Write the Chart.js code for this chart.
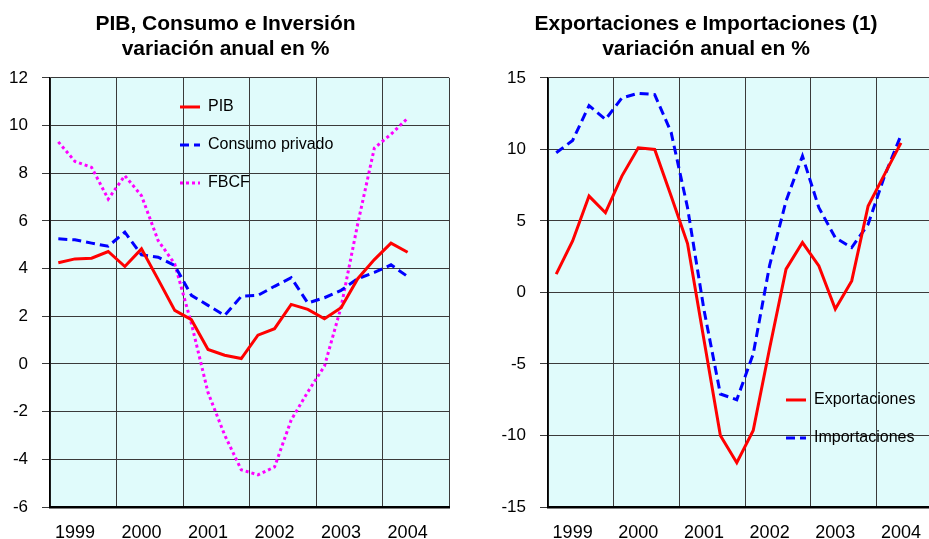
<!DOCTYPE html>
<html>
<head>
<meta charset="utf-8">
<script src="https://cdn.jsdelivr.net/npm/chart.js@4/dist/chart.umd.min.js"></script>
<style>
  body { margin: 0; background: #fff; overflow: hidden; }
  .box { position: absolute; top: 0; }
</style>
</head>
<body>
<div class="box" style="left:0"><canvas id="demanda" width="456" height="539"></canvas></div>
<div class="box" style="left:470px"><canvas id="comercio" width="498" height="539"></canvas></div>
<script>
// quarters 1999 I .. 2004 IV, data runs to 2004 II
var quarters = [
  '1999 I', '1999 II', '1999 III', '1999 IV',
  '2000 I', '2000 II', '2000 III', '2000 IV',
  '2001 I', '2001 II', '2001 III', '2001 IV',
  '2002 I', '2002 II', '2002 III', '2002 IV',
  '2003 I', '2003 II', '2003 III', '2003 IV',
  '2004 I', '2004 II', '2004 III', '2004 IV'
];
var years = ['1999', '2000', '2001', '2002', '2003', '2004'];

var pib = [4.25, 4.41, 4.44, 4.72, 4.09, 4.83, 3.55, 2.25, 1.86, 0.61, 0.37,
  0.23, 1.21, 1.48, 2.5, 2.29, 1.9, 2.36, 3.58, 4.38, 5.07, 4.69];
var consumo = [5.25, 5.21, 5.07, 4.94, 5.53, 4.58, 4.48, 4.13, 2.88, 2.46, 2.04,
  2.84, 2.88, 3.26, 3.62, 2.56, 2.78, 3.09, 3.58, 3.84, 4.16, 3.67];
var fbcf = [9.32, 8.5, 8.25, 6.92, 7.9, 7.06, 5.18, 4.2, 1.7, -1.2, -2.98,
  -4.44, -4.65, -4.32, -2.35, -1.17, -0.09, 2.39, 5.88, 9.06, 9.64, 10.31];

var exportaciones = [1.28, 3.6, 6.74, 5.58, 8.14, 10.12, 10.0, 6.74, 3.42, -3.3, -10.0,
  -11.9, -9.65, -3.9, 1.63, 3.49, 1.86, -1.16, 0.81, 6.05, 8.26, 10.46];
var importaciones = [9.77, 10.63, 13.07, 12.1, 13.6, 13.93, 13.84, 11.2, 5.93, -1.2, -7.1,
  -7.5, -4.3, 1.9, 6.4, 9.54, 5.93, 3.83, 3.14, 4.77, 8.14, 11.0];

Chart.defaults.font.family = "'Liberation Sans', Arial, sans-serif";
Chart.defaults.color = '#000';

// light cyan plot area
var plotBg = {
  id: 'plotBg',
  beforeDraw: function (chart, args, opts) {
    var a = chart.chartArea, ctx = chart.ctx;
    ctx.save();
    ctx.fillStyle = opts.color;
    ctx.fillRect(a.left, a.top, a.right - a.left, a.bottom - a.top);
    ctx.restore();
  }
};

// legend drawn inside the plot
var insideLegend = {
  id: 'insideLegend',
  afterDatasetsDraw: function (chart, args, opts) {
    var a = chart.chartArea, ctx = chart.ctx;
    ctx.save();
    ctx.font = "16px 'Liberation Sans', Arial, sans-serif";
    ctx.textBaseline = 'middle';
    chart.data.datasets.forEach(function (ds, i) {
      var x = a.left + opts.x;
      var y = a.top + opts.y + i * opts.gap;
      ctx.strokeStyle = ds.borderColor;
      ctx.lineWidth = ds.borderWidth;
      ctx.setLineDash(ds.borderDash || []);
      ctx.beginPath();
      ctx.moveTo(x, y);
      ctx.lineTo(x + 20, y);
      ctx.stroke();
      ctx.setLineDash([]);
      ctx.fillStyle = '#000';
      ctx.fillText(ds.label, x + 28, y);
    });
    ctx.restore();
  }
};

function line(label, data, color, dash) {
  return {
    label: label,
    data: data,
    borderColor: color,
    borderWidth: 3,
    borderDash: dash,
    pointRadius: 0,
    tension: 0,
    fill: false
  };
}

function makeChart(id, title, datasets, yMin, yMax, yStep, yWidth, padRight, legendPos) {
  return new Chart(document.getElementById(id).getContext('2d'), {
    type: 'line',
    data: { labels: quarters, datasets: datasets },
    plugins: [plotBg, insideLegend],
    options: {
      responsive: false,
      animation: false,
      layout: { padding: { left: 0, right: padRight, top: 0, bottom: 0 } },
      plugins: {
        legend: { display: false },
        tooltip: { enabled: false },
        plotBg: { color: '#e0fbfb' },
        insideLegend: legendPos,
        title: {
          display: true,
          text: title,
          color: '#000',
          font: { size: 21, weight: 'bold', lineHeight: 1.19 },
          padding: { top: 12, bottom: 16 }
        }
      },
      scales: {
        x: {
          offset: true,
          grid: {
            offset: true,
            drawTicks: false,
            lineWidth: 1,
            color: function (c) {
              return (c.index === undefined || c.index % 4 === 0) ? '#3a3a3a' : 'rgba(0,0,0,0)';
            }
          },
          border: { color: '#000', width: 2.5 },
          ticks: {
            autoSkip: false,
            maxRotation: 0,
            padding: 15,
            font: { size: 18 },
            callback: function (v, i) {
              return i % 4 === 1 ? years[Math.floor(i / 4)] : '';
            }
          },
          afterFit: function (s) { s.height = 32; }
        },
        y: {
          min: yMin,
          max: yMax,
          grid: { color: '#3a3a3a', lineWidth: 1, tickLength: 8 },
          border: { color: '#000', width: 1.5 },
          ticks: { stepSize: yStep, padding: 14, font: { size: 17 } },
          afterFit: function (s) { s.width = yWidth; }
        }
      }
    }
  });
}

makeChart('demanda',
  ['PIB, Consumo e Inversión', 'variación anual en %'],
  [
    line('PIB', pib, '#ff0000', []),
    line('Consumo privado', consumo, '#0000ff', [9, 5]),
    line('FBCF', fbcf, '#ff00ff', [3, 3])
  ],
  -6, 12, 2, 50, 5, { x: 130, y: 29, gap: 38 });

makeChart('comercio',
  ['Exportaciones e Importaciones (1)', 'variación anual en %'],
  [
    line('Exportaciones', exportaciones, '#ff0000', []),
    line('Importaciones', importaciones, '#0000ff', [9, 5])
  ],
  -15, 15, 5, 78, 26, { x: 238, y: 322, gap: 38 });
</script>
</body>
</html>
